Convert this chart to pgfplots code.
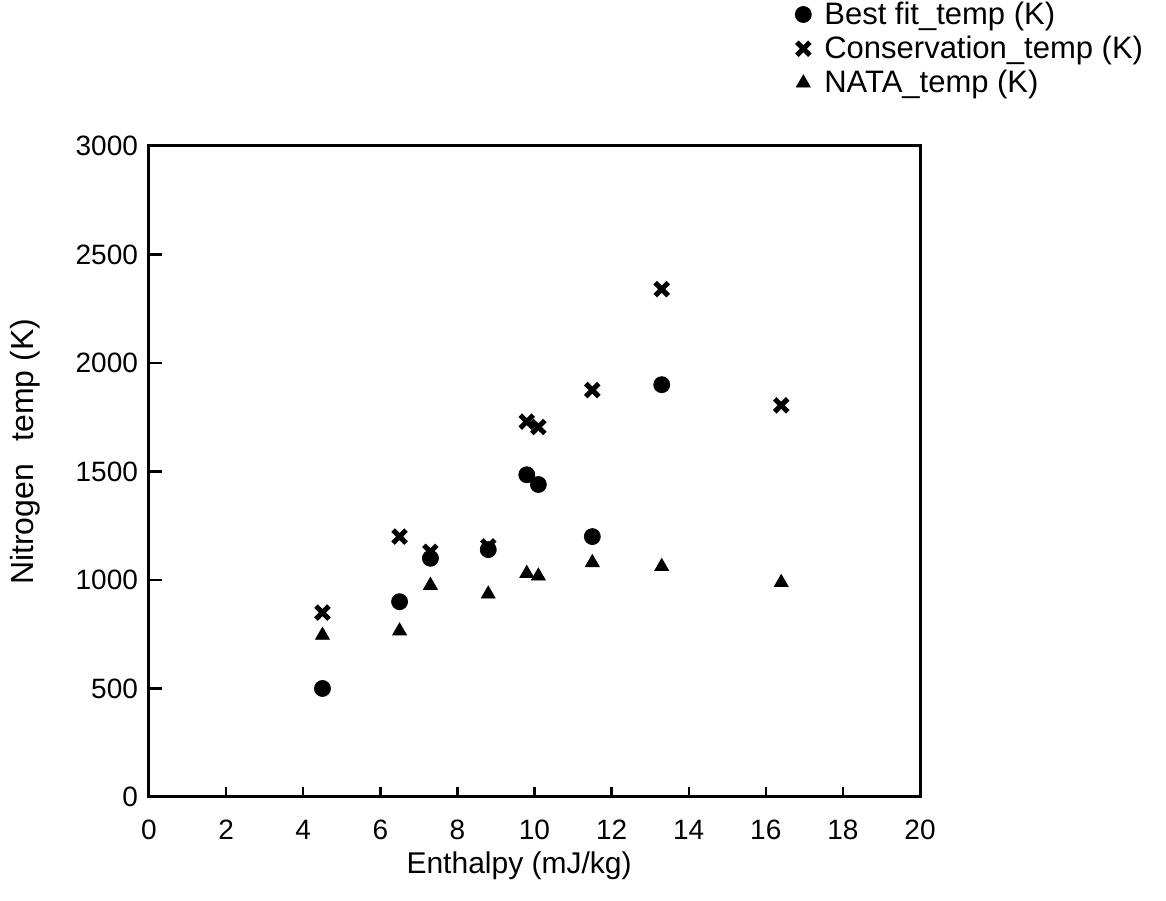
\documentclass[border=0pt]{standalone}
\usepackage{fontspec}
\setmainfont{Liberation Sans}
\usepackage{pgfplots}
\pgfplotsset{compat=1.18}

\begin{document}
\begin{tikzpicture}
\begin{axis}[
  scale only axis, width=385.5pt, height=325.5pt,
  xmin=0, xmax=20, ymin=0, ymax=3000,
  xtick={0,2,...,20}, ytick={0,500,...,3000},
  axis line style={line width=1.5pt},
  tick align=inside, xtick pos=bottom, ytick pos=left,
  xtick style={black, line width=1.2pt, /pgfplots/major tick length=5pt},
  ytick style={black, line width=1.2pt, /pgfplots/major tick length=6.5pt},
  font=\fontsize{15}{18}\selectfont,
  tick label style={font=\fontsize{14}{16}\selectfont},
  /pgf/number format/assume math mode=true,
  /pgf/number format/set thousands separator={},
  scaled ticks=false,
  xticklabel style={yshift=-8pt},
  yticklabel style={xshift=-2pt},
  xlabel={Enthalpy (mJ/kg)}, ylabel={Nitrogen\hspace{0.7em}temp (K)},
  xlabel style={at={(axis description cs:0.48,-0.106)}, anchor=center},
  ylabel style={at={(axis description cs:-0.161,0.53)}, anchor=center, font=\fontsize{16}{18}\selectfont},
  legend style={draw=none, fill=none, at={(0.83,1.232)}, anchor=north west,
    font=\fontsize{15.5}{18}\selectfont,
    nodes={inner ysep=1.2pt}, row sep=2pt,
    /tikz/every odd column/.append style={column sep=4.5pt}},
  legend cell align=left,
]
\addplot[only marks, mark=*, mark size=4pt, black] coordinates {
  (4.5,500) (6.5,900) (7.3,1100) (8.8,1140) (9.8,1485) (10.1,1440) (11.5,1200) (13.3,1900)};
\addlegendentry{Best fit\_temp (K)}
\addplot[only marks, mark=x, mark size=4.6pt, black, line width=2.5pt] coordinates {
  (4.5,850) (6.5,1200) (7.3,1130) (8.8,1155) (9.8,1730) (10.1,1705) (11.5,1875) (13.3,2340) (16.4,1805)};
\addlegendentry{Conservation\_temp (K)}
\addplot[only marks, mark=triangle*, mark size=4pt, black] coordinates {
  (4.5,745) (6.5,765) (7.3,975) (8.8,935) (9.8,1030) (10.1,1018) (11.5,1080) (13.3,1062) (16.4,988)};
\addlegendentry{NATA\_temp (K)}
\end{axis}
\pgfresetboundingbox
\path[use as bounding box] ([shift={(-74.5pt,-52pt)}]current axis.south west) rectangle ([shift={(123pt,73pt)}]current axis.north east);
\end{tikzpicture}
\end{document}
